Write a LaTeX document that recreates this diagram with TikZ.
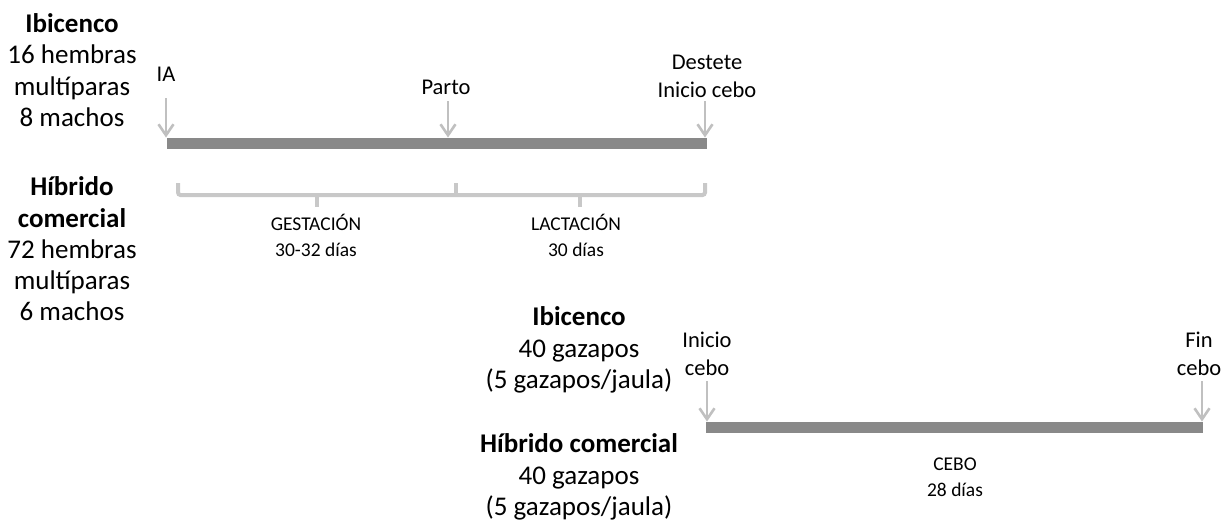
\documentclass[tikz,border=0pt]{standalone}
\usepackage{fontspec}
\setmainfont{Carlito}
\usetikzlibrary{arrows.meta}
\definecolor{barcol}{RGB}{137,137,137}
\definecolor{arrcol}{RGB}{192,192,192}
\definecolor{bracecol}{RGB}{200,200,200}
\tikzset{
  maintxt/.style={inner sep=0pt, align=center, font=\fontsize{27}{31.3}\selectfont},
  lbl/.style={inner sep=0pt, align=center, font=\fontsize{22.5}{28}\selectfont},
  small/.style={inner sep=0pt, align=center, font=\fontsize{19.5}{26}\selectfont},
  bar/.style={fill=barcol, draw=none, inner sep=0pt, minimum height=11.5pt},
  marker/.style={draw=arrcol, line width=2.8pt, -{Straight Barb[length=11pt,width=15pt,line width=2.6pt]}},
  bracebar/.style={draw=bracecol, line width=4pt, rounded corners=2.5pt},
}
\begin{document}
\begin{tikzpicture}[x=1pt,y=-1pt]
\useasboundingbox (0,0) rectangle (1226,522);
% left groups
\node[maintxt] (ibi1) at (72,70) {\textbf{Ibicenco}\\16 hembras\\multíparas\\8 machos};
\node[maintxt] (hib1) at (72,249) {\textbf{Híbrido}\\\textbf{comercial}\\72 hembras\\multíparas\\6 machos};
% top timeline
\node[bar, minimum width=540pt] (bar1) at (437,143.5) {};
\node[lbl] (ia) at (166,74) {IA};
\node[lbl] (parto) at (446,87) {Parto};
\node[lbl] (destete) at (707,76) {Destete\\Inicio cebo};
\coordinate (ia0) at (166,98);
\coordinate (parto0) at (448,101);
\coordinate (destete0) at (705,101);
\draw[marker] (ia0) -- (ia0 |- bar1.north);
\draw[marker] (parto0) -- (parto0 |- bar1.north);
\draw[marker] (destete0) -- (destete0 |- bar1.north);
% brace
\coordinate (bL) at (178,183);
\coordinate (bR) at (705,183);
\coordinate (bM) at (456,183);
\draw[bracebar] (bL) -- (178,195) -- (705,195) -- (bR);
\draw[bracebar] (bM) -- (456,195);
\draw[bracebar] (317,195) -- (317,207);
\draw[bracebar] (580,195) -- (580,207);
\node[small] (gest) at (316,235) {GESTACIÓN\\30-32 días};
\node[small] (lact) at (576,235) {LACTACIÓN\\30 días};
% bottom groups
\node[maintxt] (ibi2) at (579,350) {\textbf{Ibicenco}\\40 gazapos\\(5 gazapos/jaula)};
\node[maintxt] (hib2) at (579,477) {\textbf{Híbrido comercial}\\40 gazapos\\(5 gazapos/jaula)};
% bottom timeline
\node[bar, minimum width=497pt] (bar2) at (954.5,427.5) {};
\node[lbl] (ini) at (707,354) {Inicio\\cebo};
\node[lbl] (fin) at (1199,354) {Fin\\cebo};
\coordinate (ini0) at (707,381);
\coordinate (fin0) at (1202,381);
\draw[marker] (ini0) -- (ini0 |- bar2.north);
\draw[marker] (fin0) -- (fin0 |- bar2.north);
\node[small] (cebo) at (955,477) {CEBO\\28 días};
\end{tikzpicture}
\end{document}
